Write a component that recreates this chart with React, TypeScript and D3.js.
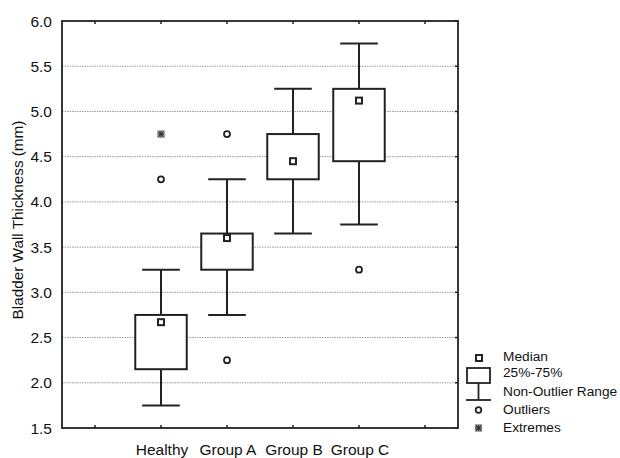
import React from "react";
import * as d3 from "d3";

const categories = ["Healthy", "Group A", "Group B", "Group C"];
const medians = [2.67, 3.6, 4.45, 5.12];
const q1 = [2.15, 3.25, 4.25, 4.45];
const q3 = [2.75, 3.65, 4.75, 5.25];
const whiskerLow = [1.75, 2.75, 3.65, 3.75];
const whiskerHigh = [3.25, 4.25, 5.25, 5.75];
const outliers = [[4.25], [4.75, 2.25], [], [3.25]];
const extremes = [[4.75], [], [], []];
const yTicks = [1.5, 2.0, 2.5, 3.0, 3.5, 4.0, 4.5, 5.0, 5.5, 6.0];
const xTickPositions = [0, 1, 2, 3, 4, 5];
const legendLabels = ["Median", "25%-75%", "Non-Outlier Range", "Outliers", "Extremes"];

const W = 620;
const H = 458;
const left = 62, right = 458, top = 21, bottom = 428;
const font = "'Liberation Sans', Arial, sans-serif";
const ink = "#222";

export default function App() {
  const x = d3.scaleLinear().domain([-0.5, 5.5]).range([left, right]);
  const y = d3.scaleLinear().domain([1.5, 6.0]).range([bottom, top]);
  const boxHalf = 0.39;
  const capHalf = 0.285;

  const Extreme = ({ cx, cy }: { cx: number; cy: number }) => (
    <g stroke="#333" strokeWidth={1.2}>
      <rect x={cx - 3.2} y={cy - 3.2} width={6.4} height={6.4} fill="#bbb" stroke="#777" strokeWidth={0.8} />
      <line x1={cx - 3} y1={cy} x2={cx + 3} y2={cy} />
      <line x1={cx} y1={cy - 3} x2={cx} y2={cy + 3} />
      <line x1={cx - 2.5} y1={cy - 2.5} x2={cx + 2.5} y2={cy + 2.5} />
      <line x1={cx - 2.5} y1={cy + 2.5} x2={cx + 2.5} y2={cy - 2.5} />
    </g>
  );

  return (
    <svg width={W} height={H} style={{ position: "absolute", left: 0, top: 0, background: "#fff" }} fontFamily={font}>
      {/* grid */}
      {yTicks.filter((t) => t > 1.5 && t < 6).map((t) => (
        <line key={"g" + t} x1={left} x2={right} y1={y(t)} y2={y(t)} stroke="#9a9a9a" strokeWidth={1} strokeDasharray="1.5,1" />
      ))}
      {/* y tick labels */}
      {yTicks.map((t) => (
        <text key={"yl" + t} x={52} y={y(t)} dy="0.36em" textAnchor="end" fontSize={15.5} fill="#111">
          {t.toFixed(1)}
        </text>
      ))}
      {/* right ticks */}
      {yTicks.map((t) => (
        <line key={"rt" + t} x1={right} x2={right - 3} y1={y(t)} y2={y(t)} stroke={ink} strokeWidth={1.5} />
      ))}
      {/* x ticks top & bottom */}
      {xTickPositions.map((p) => (
        <g key={"xt" + p}>
          <line x1={x(p)} x2={x(p)} y1={top} y2={top + 3} stroke={ink} strokeWidth={1.5} />
          <line x1={x(p)} x2={x(p)} y1={bottom} y2={bottom - 3} stroke={ink} strokeWidth={1.5} />
        </g>
      ))}
      {/* frame */}
      <rect x={left} y={top} width={right - left} height={bottom - top} fill="none" stroke={ink} strokeWidth={1.8} />
      {/* boxes */}
      {categories.map((c, i) => {
        const p = i + 1;
        const cx = x(p);
        return (
          <g key={c} stroke={ink} strokeWidth={2} fill="none">
            <line x1={cx} x2={cx} y1={y(whiskerHigh[i])} y2={y(q3[i])} />
            <line x1={cx} x2={cx} y1={y(q1[i])} y2={y(whiskerLow[i])} />
            <line x1={x(p - capHalf)} x2={x(p + capHalf)} y1={y(whiskerHigh[i])} y2={y(whiskerHigh[i])} />
            <line x1={x(p - capHalf)} x2={x(p + capHalf)} y1={y(whiskerLow[i])} y2={y(whiskerLow[i])} />
            <rect x={x(p - boxHalf)} y={y(q3[i])} width={x(p + boxHalf) - x(p - boxHalf)} height={y(q1[i]) - y(q3[i])} fill="#fff" />
            <rect x={cx - 3} y={y(medians[i]) - 3} width={6} height={6} fill="#fff" />
            {outliers[i].map((v, j) => (
              <circle key={j} cx={cx} cy={y(v)} r={3} fill="#fff" strokeWidth={1.8} />
            ))}
            {extremes[i].map((v, j) => (
              <Extreme key={"e" + j} cx={cx} cy={y(v)} />
            ))}
          </g>
        );
      })}
      {/* x labels */}
      {categories.map((c, i) => (
        <text key={"xl" + c} x={x(i + 1) + 1} y={455} textAnchor="middle" fontSize={15.5} fill="#111">
          {c}
        </text>
      ))}
      {/* y axis title */}
      <text transform={`translate(23,220) rotate(-90)`} textAnchor="middle" fontSize={15.3} fill="#111">
        Bladder Wall Thickness (mm)
      </text>
      {/* legend */}
      <g stroke={ink} fill="#fff">
        <rect x={476} y={355} width={6} height={6} strokeWidth={2} />
        <rect x={467} y={368} width={23} height={15} strokeWidth={1.8} />
        <line x1={478.5} x2={478.5} y1={383} y2={400} strokeWidth={1.8} />
        <line x1={466} x2={491} y1={400} y2={400} strokeWidth={1.8} />
        <circle cx={478.5} cy={410} r={2.8} strokeWidth={1.8} />
      </g>
      <Extreme cx={478.5} cy={428} />
      {legendLabels.map((l, i) => (
        <text key={l} x={503} y={[356, 372.5, 391.5, 409, 427.5][i]} dy="0.36em" fontSize={13.7} fill="#111">
          {l}
        </text>
      ))}
    </svg>
  );
}
